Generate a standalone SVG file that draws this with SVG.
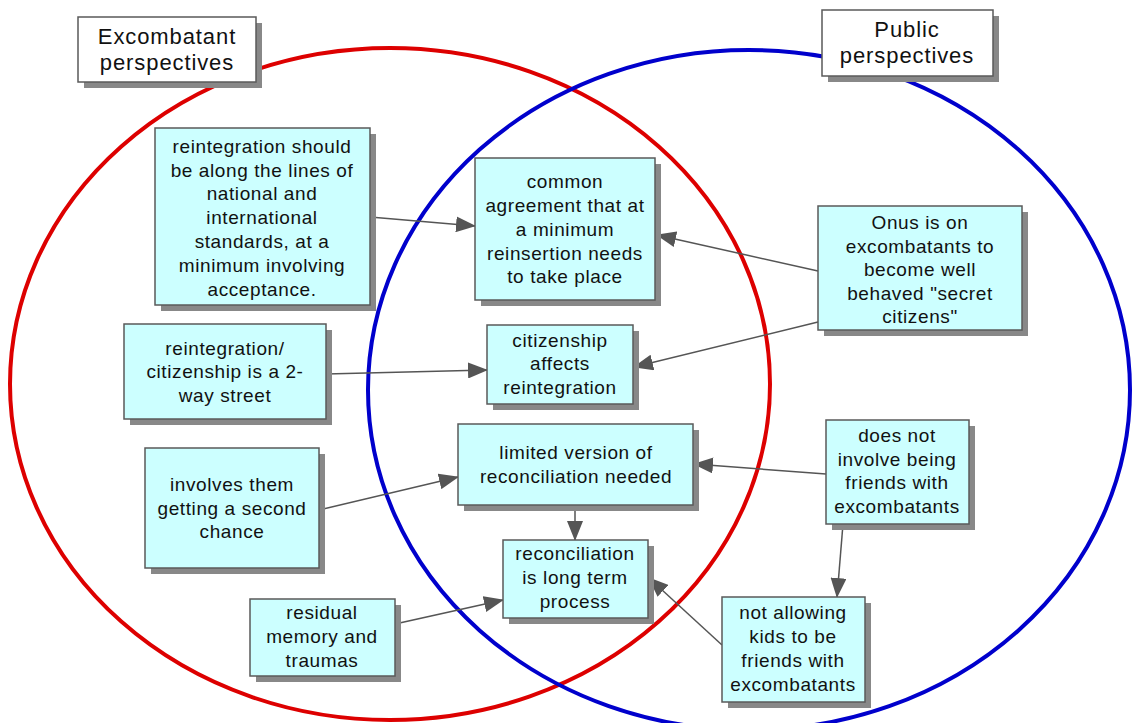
<svg xmlns="http://www.w3.org/2000/svg" width="1133" height="723" viewBox="0 0 1133 723">
<defs>
<marker id="ah" viewBox="0 0 20 16" refX="19" refY="8" markerWidth="20" markerHeight="16" markerUnits="userSpaceOnUse" orient="auto">
<path d="M0,0 L20,8 L0,16 Z" fill="#555555"/>
</marker>
</defs>
<style>
.sh{fill:#888888}
.bx{fill:#ccffff;stroke:#5a5a5a;stroke-width:1.5}
.hb{fill:#ffffff;stroke:#5a5a5a;stroke-width:1.5}
text{font-family:"Liberation Sans",Arial,sans-serif;font-size:19px;fill:#111;text-anchor:middle;letter-spacing:0.6px}
.h{font-size:22px;letter-spacing:0.9px}
.c{fill:none;stroke:#555555;stroke-width:1.5;marker-end:url(#ah)}
</style>
<rect width="1133" height="723" fill="#ffffff"/>
<ellipse cx="390" cy="384" rx="380" ry="336" fill="none" stroke="#dd0000" stroke-width="4"/>
<ellipse cx="749" cy="390" rx="381" ry="340" fill="none" stroke="#0000cc" stroke-width="4"/>
<g id="connectors">
<line class="c" x1="370" y1="217" x2="475" y2="226"/>
<line class="c" x1="818" y1="271" x2="657" y2="235"/>
<line class="c" x1="818" y1="322" x2="634" y2="367"/>
<line class="c" x1="326" y1="374" x2="487" y2="370"/>
<line class="c" x1="319" y1="510" x2="458" y2="477"/>
<line class="c" x1="826" y1="474" x2="694" y2="464"/>
<line class="c" x1="575" y1="505" x2="575" y2="540"/>
<line class="c" x1="395" y1="624" x2="503" y2="600"/>
<line class="c" x1="843" y1="524" x2="837" y2="597"/>
<line class="c" x1="722" y1="645" x2="649" y2="578"/>
</g>
<g id="h1">
<rect class="sh" x="84" y="23" width="178" height="65"/>
<rect class="hb" x="78" y="17" width="178" height="65"/>
<text class="h" x="167" y="44">Excombatant</text>
<text class="h" x="167" y="70">perspectives</text>
</g>
<g id="h2">
<rect class="sh" x="828" y="16" width="171" height="66"/>
<rect class="hb" x="822" y="10" width="171" height="66"/>
<text class="h" x="907" y="37">Public</text>
<text class="h" x="907" y="63">perspectives</text>
</g>
<g id="n1">
<rect class="sh" x="161" y="134" width="215" height="177"/>
<rect class="bx" x="155" y="128" width="215" height="177"/>
<text x="262" y="153">reintegration should</text>
<text x="262" y="177">be along the lines of</text>
<text x="262" y="200">national and</text>
<text x="262" y="224">international</text>
<text x="262" y="248">standards, at a</text>
<text x="262" y="272">minimum involving</text>
<text x="262" y="296">acceptance.</text>
</g>
<g id="n2">
<rect class="sh" x="481" y="164" width="180" height="142"/>
<rect class="bx" x="475" y="158" width="180" height="142"/>
<text x="565" y="188">common</text>
<text x="565" y="212">agreement that at</text>
<text x="565" y="236">a minimum</text>
<text x="565" y="260">reinsertion needs</text>
<text x="565" y="283">to take place</text>
</g>
<g id="n3">
<rect class="sh" x="824" y="212" width="204" height="124"/>
<rect class="bx" x="818" y="206" width="204" height="124"/>
<text x="920" y="229">Onus is on</text>
<text x="920" y="253">excombatants to</text>
<text x="920" y="276">become well</text>
<text x="920" y="300">behaved "secret</text>
<text x="920" y="323">citizens"</text>
</g>
<g id="n4">
<rect class="sh" x="130" y="330" width="202" height="95"/>
<rect class="bx" x="124" y="324" width="202" height="95"/>
<text x="225" y="355">reintegration/</text>
<text x="225" y="378">citizenship is a 2-</text>
<text x="225" y="402">way street</text>
</g>
<g id="n5">
<rect class="sh" x="493" y="331" width="146" height="79"/>
<rect class="bx" x="487" y="325" width="146" height="79"/>
<text x="560" y="347">citizenship</text>
<text x="560" y="370">affects</text>
<text x="560" y="394">reintegration</text>
</g>
<g id="n6">
<rect class="sh" x="464" y="430" width="235" height="81"/>
<rect class="bx" x="458" y="424" width="235" height="81"/>
<text x="576" y="459">limited version of</text>
<text x="576" y="483">reconciliation needed</text>
</g>
<g id="n7">
<rect class="sh" x="151" y="454" width="174" height="120"/>
<rect class="bx" x="145" y="448" width="174" height="120"/>
<text x="232" y="491">involves them</text>
<text x="232" y="515">getting a second</text>
<text x="232" y="538">chance</text>
</g>
<g id="n8">
<rect class="sh" x="509" y="546" width="145" height="78"/>
<rect class="bx" x="503" y="540" width="145" height="78"/>
<text x="575" y="560">reconciliation</text>
<text x="575" y="584">is long term</text>
<text x="575" y="608">process</text>
</g>
<g id="n9">
<rect class="sh" x="256" y="605" width="145" height="77"/>
<rect class="bx" x="250" y="599" width="145" height="77"/>
<text x="322" y="619">residual</text>
<text x="322" y="643">memory and</text>
<text x="322" y="667">traumas</text>
</g>
<g id="n10">
<rect class="sh" x="832" y="426" width="143" height="104"/>
<rect class="bx" x="826" y="420" width="143" height="104"/>
<text x="897" y="442">does not</text>
<text x="897" y="466">involve being</text>
<text x="897" y="489">friends with</text>
<text x="897" y="513">excombatants</text>
</g>
<g id="n11">
<rect class="sh" x="728" y="603" width="143" height="105"/>
<rect class="bx" x="722" y="597" width="143" height="105"/>
<text x="793" y="619">not allowing</text>
<text x="793" y="643">kids to be</text>
<text x="793" y="667">friends with</text>
<text x="793" y="691">excombatants</text>
</g>
</svg>
